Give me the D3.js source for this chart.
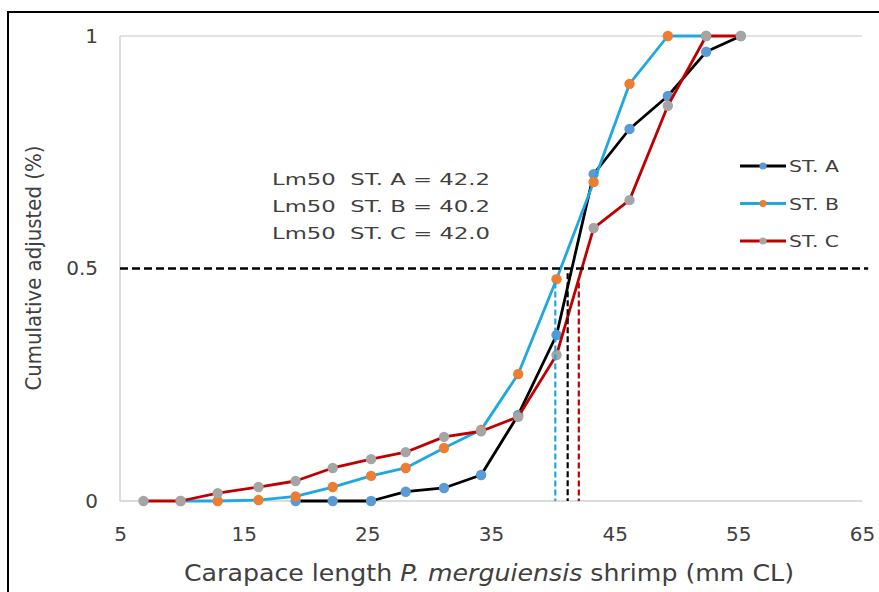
<!DOCTYPE html>
<html>
<head>
<meta charset="utf-8">
<script src="https://cdn.jsdelivr.net/npm/d3@7"></script>
<style>
  body { margin: 0; background: #fff; }
  svg text { font-family: "DejaVu Sans", Verdana, sans-serif; fill: #404040; white-space: pre; }
</style>
</head>
<body>
<svg id="chart" width="879" height="592"></svg>
<script>
// carapace length classes (mm CL)
const sizes = [6.9, 9.9, 12.9, 16.2, 19.2, 22.2, 25.3, 28.1, 31.2, 34.2, 37.2, 40.3, 43.3, 46.2, 49.3, 52.4, 55.2];
const stA = [null, null, null, null, 0, 0, 0, 0.02, 0.028, 0.056, 0.185, 0.357, 0.703, 0.80, 0.871, 0.966, 1.0];
const stB = [null, 0, 0, 0.002, 0.01, 0.03, 0.054, 0.071, 0.114, 0.153, 0.273, 0.477, 0.686, 0.897, 1.0, 1.0, null];
const stC = [0, 0, 0.017, 0.03, 0.043, 0.071, 0.09, 0.105, 0.138, 0.15, 0.181, 0.314, 0.587, 0.647, 0.85, 1.0, 1.0];
const seriesNames = ["ST. A", "ST. B", "ST. C"];
const lm50Labels = ["Lm50  ST. A = 42.2", "Lm50  ST. B = 40.2", "Lm50  ST. C = 42.0"];
// where the dashed Lm50 drops are drawn, and how high they start
const lm50X = [41.2, 40.2, 42.1];
const lm50Top = [0.49, 0.47, 0.47];
const xTicks = [5, 15, 25, 35, 45, 55, 65];
const yTicks = [0, 0.5, 1];

const lineColors = ["#000000", "#1fa8e0", "#c00000"];
const markColors = ["#5b9bd5", "#ed7d31", "#a5a5a5"];

let svg = d3.select("#chart");

// outer frame (only top and left edges show)
svg.append("line").attr("x1", 8).attr("y1", 12).attr("x2", 879).attr("y2", 12)
   .attr("stroke", "#000").attr("stroke-width", 2);
svg.append("line").attr("x1", 8).attr("y1", 11).attr("x2", 8).attr("y2", 592)
   .attr("stroke", "#000").attr("stroke-width", 2);

let x = d3.scaleLinear().domain([5, 65]).range([120, 862]);
let y = d3.scaleLinear().domain([0, 1]).range([501, 36]);

// gridline at 1, axis lines
svg.append("line").attr("x1", x(5)).attr("x2", x(65)).attr("y1", y(1)).attr("y2", y(1))
   .attr("stroke", "#d9d9d9").attr("stroke-width", 1.3);
svg.append("line").attr("x1", x(5)).attr("x2", x(65)).attr("y1", y(0)).attr("y2", y(0))
   .attr("stroke", "#d0d0d0").attr("stroke-width", 1.5);
svg.append("line").attr("x1", x(5)).attr("x2", x(5)).attr("y1", y(1)).attr("y2", y(0))
   .attr("stroke", "#d0d0d0").attr("stroke-width", 1.5);

// axes (labels only)
let xAxis = svg.append("g").attr("transform", "translate(0," + y(0) + ")")
   .call(d3.axisBottom(x).tickValues(xTicks).tickSize(0).tickPadding(26).tickFormat(d3.format("d")));
let yAxis = svg.append("g").attr("transform", "translate(" + x(5) + ",0)")
   .call(d3.axisLeft(y).tickValues(yTicks).tickSize(0).tickPadding(22).tickFormat(d => d));
[xAxis, yAxis].forEach(function(a) {
    a.select(".domain").remove();
    a.selectAll("text").attr("font-size", 20).attr("fill", "#404040")
     .style("font-family", "'DejaVu Sans', Verdana, sans-serif");
});

// axis titles
let xTitle = svg.append("text").attr("x", 489).attr("y", 581).attr("text-anchor", "middle")
   .attr("font-size", 23).attr("textLength", 610).attr("lengthAdjust", "spacingAndGlyphs");
xTitle.append("tspan").text("Carapace length ");
xTitle.append("tspan").attr("font-style", "italic").text("P. merguiensis");
xTitle.append("tspan").text(" shrimp (mm CL)");

svg.append("text").attr("transform", "translate(41,268) rotate(-90)").attr("text-anchor", "middle")
   .attr("font-size", 21).attr("textLength", 245).attr("lengthAdjust", "spacingAndGlyphs")
   .text("Cumulative adjusted (%)");

// series
let allSeries = [stA, stB, stC].map(function(vals, i) {
    return {
        name: seriesNames[i],
        points: sizes.map((s, j) => ({ x: s, y: vals[j] })).filter(p => p.y !== null)
    };
});

let line = d3.line().x(d => x(d.x)).y(d => y(d.y));

allSeries.forEach(function(s, i) {
    let g = svg.append("g").attr("class", "series");
    g.append("path").attr("d", line(s.points)).attr("fill", "none")
     .attr("stroke", lineColors[i]).attr("stroke-width", 2.8).attr("stroke-linejoin", "round");
    g.selectAll("circle").data(s.points).enter().append("circle")
     .attr("cx", d => x(d.x)).attr("cy", d => y(d.y)).attr("r", 5.2)
     .attr("fill", markColors[i]);
});

// 50% line
svg.append("line").attr("x1", x(5)).attr("x2", x(65.5)).attr("y1", y(0.5)).attr("y2", y(0.5))
   .attr("stroke", "#000").attr("stroke-width", 2.5).attr("stroke-dasharray", "8,4");

// Lm50 drops
let dropColors = ["#000000", "#1fa8e0", "#c00000"];
svg.selectAll("line.drop").data(lm50X).enter().append("line").attr("class", "drop")
   .attr("x1", d => x(d)).attr("x2", d => x(d))
   .attr("y1", (d, i) => y(lm50Top[i])).attr("y2", y(0))
   .attr("stroke", (d, i) => dropColors[i]).attr("stroke-width", 2.2)
   .attr("stroke-dasharray", "6,3");

// annotation
svg.selectAll("text.lm").data(lm50Labels).enter().append("text").attr("class", "lm")
   .attr("x", 272).attr("y", (d, i) => 185 + i * 27)
   .attr("font-size", 16).attr("fill", "#222")
   .attr("textLength", 218).attr("lengthAdjust", "spacingAndGlyphs")
   .text(d => d);

// legend
let legend = svg.selectAll("g.legend").data(seriesNames).enter().append("g")
   .attr("class", "legend")
   .attr("transform", (d, i) => "translate(740," + (166 + i * 37.5) + ")");
legend.append("line").attr("x1", 0).attr("x2", 46).attr("y1", 0).attr("y2", 0)
   .attr("stroke", (d, i) => lineColors[i]).attr("stroke-width", 3);
legend.append("circle").attr("cx", 23).attr("cy", 0).attr("r", 3.6)
   .attr("fill", (d, i) => markColors[i]);
legend.append("text").attr("x", 49).attr("y", 6).attr("font-size", 16).attr("fill", "#222")
   .attr("textLength", 50).attr("lengthAdjust", "spacingAndGlyphs")
   .text(d => d);
</script>
</body>
</html>
